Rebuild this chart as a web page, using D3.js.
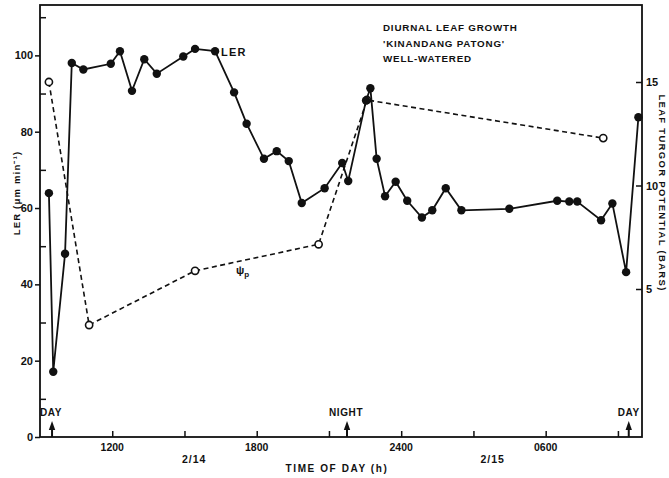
<!DOCTYPE html>
<html>
<head>
<meta charset="utf-8">
<script src="https://cdn.jsdelivr.net/npm/d3@7"></script>
<style>
  body { margin: 0; background: #fff; }
  svg text { font-family: "Liberation Sans", Arial, sans-serif; font-weight: bold; fill: #111; }
</style>
</head>
<body>
<div id="chart"></div>
<script>
// time in hours from midnight 2/14 (24 = midnight 2/15)
var lerTime = [9.37, 9.55, 10.04, 10.32, 10.8, 11.94, 12.32, 12.82, 13.33, 13.85, 14.95, 15.44, 16.27, 17.06,
  17.58, 18.3, 18.83, 19.33, 19.87, 20.82, 21.55, 21.8, 22.54, 22.72, 22.98, 23.33, 23.77, 24.25, 24.86,
  25.29, 25.85, 26.5, 28.49, 30.48, 30.98, 31.31, 32.3, 32.77, 33.34, 33.85];
var lerValue = [63.9, 17.1, 48, 98, 96.3, 97.8, 101.1, 90.7, 99, 95.2, 99.7, 101.7, 101.1, 90.3,
  82.1, 72.9, 74.9, 72.3, 61.3, 65.2, 71.8, 67.1, 88.2, 91.4, 72.9, 63.1, 66.9, 61.9, 57.5,
  59.4, 65.2, 59.4, 59.8, 61.9, 61.7, 61.7, 56.8, 61.2, 43.2, 83.8];

// leaf turgor potential (bars)
var psiTime = [9.37, 11.04, 15.44, 20.57, 22.58, 32.39];
var psiValue = [15.0, 3.26, 5.88, 7.16, 14.13, 12.29];

var xTicks = [12, 15, 18, 21, 24, 27, 30, 33];
var xTickLabels = { 12: "1200", 18: "1800", 24: "2400", 30: "0600" };
var leftMajor = [0, 20, 40, 60, 80, 100];
var leftMinor = [10, 30, 50, 70, 90, 110];
var rightTicks = [5, 10, 15];
var dateLabels = ["2/14", "2/15"];
var dateTimes = [15.4, 27.8];
var markerLabels = ["DAY", "NIGHT", "DAY"];
var markerTimes = [9.5, 21.75, 33.45];
var titleLines = ["DIURNAL LEAF GROWTH", "'KINANDANG PATONG'", "WELL-WATERED"];

var width = 669, height = 478;
var margin = { top: 5, right: 27, bottom: 41, left: 40 };

var svg = d3.select("#chart").append("svg")
    .attr("width", width)
    .attr("height", height);

var x = d3.scaleLinear().domain([9, 34]).range([margin.left, width - margin.right]);
var y = d3.scaleLinear().domain([0, 113.2]).range([height - margin.bottom, margin.top]);
var y2 = d3.scaleLinear().domain([-2.15, 18.72]).range([height - margin.bottom, margin.top]);

// frame
svg.append("rect")
    .attr("x", margin.left).attr("y", margin.top)
    .attr("width", width - margin.left - margin.right)
    .attr("height", height - margin.top - margin.bottom)
    .attr("fill", "none").attr("stroke", "#111").attr("stroke-width", 1.8);

// left axis: major ticks outside with labels, minor ticks inside
svg.append("g")
    .attr("transform", "translate(" + margin.left + ",0)")
    .call(d3.axisLeft(y).tickValues(leftMajor).tickSize(5).tickPadding(2))
    .call(g => g.select(".domain").remove());
svg.append("g")
    .attr("transform", "translate(" + margin.left + ",0)")
    .call(d3.axisRight(y).tickValues(leftMinor).tickSize(6).tickFormat(""))
    .call(g => g.select(".domain").remove());

// right axis
svg.append("g")
    .attr("transform", "translate(" + (width - margin.right) + ",0)")
    .call(d3.axisRight(y2).tickValues(rightTicks).tickSize(-6).tickPadding(4))
    .call(g => g.select(".domain").remove());

// bottom axis, ticks pointing up
svg.append("g")
    .attr("transform", "translate(0," + (height - margin.bottom) + ")")
    .call(d3.axisTop(x).tickValues(xTicks).tickSize(6).tickFormat(""))
    .call(g => g.select(".domain").remove());
svg.append("g")
    .selectAll("text")
    .data(xTicks.filter(t => xTickLabels[t]))
    .enter().append("text")
    .attr("x", d => x(d))
    .attr("y", height - margin.bottom + 14)
    .attr("text-anchor", "middle")
    .attr("font-size", 10.5)
    .text(d => xTickLabels[d]);

svg.selectAll(".tick line").attr("stroke", "#111").attr("stroke-width", 1.5);
svg.selectAll(".tick text").attr("font-size", 11).attr("fill", "#111");

// date labels
svg.append("g").selectAll("text")
    .data(dateLabels)
    .enter().append("text")
    .attr("x", (d, i) => x(dateTimes[i]))
    .attr("y", height - margin.bottom + 26)
    .attr("text-anchor", "middle")
    .attr("font-size", 10.5)
    .attr("letter-spacing", 1)
    .text(d => d);

svg.append("text")
    .attr("x", 337).attr("y", height - 6)
    .attr("text-anchor", "middle")
    .attr("font-size", 10)
    .attr("letter-spacing", 1.6)
    .text("TIME OF DAY (h)");

svg.append("text")
    .attr("transform", "translate(20,193) rotate(-90)")
    .attr("text-anchor", "middle")
    .attr("font-size", 9.5)
    .attr("letter-spacing", 1.2)
    .text("LER (\u03bcm min\u207b\u00b9)");

svg.append("text")
    .attr("transform", "translate(659,193) rotate(90)")
    .attr("text-anchor", "middle")
    .attr("font-size", 9.5)
    .attr("letter-spacing", 1.3)
    .text("LEAF TURGOR POTENTIAL (BARS)");

// day/night markers
var mk = svg.append("g").selectAll("g")
    .data(markerLabels)
    .enter().append("g");
mk.append("line")
    .attr("x1", (d, i) => x(markerTimes[i])).attr("x2", (d, i) => x(markerTimes[i]))
    .attr("y1", height - margin.bottom).attr("y2", height - margin.bottom - 10)
    .attr("stroke", "#111").attr("stroke-width", 2);
mk.append("path")
    .attr("d", (d, i) => {
        var cx = x(markerTimes[i]), b = height - margin.bottom;
        return "M" + (cx - 3.2) + "," + (b - 7) + "L" + cx + "," + (b - 16) + "L" + (cx + 3.2) + "," + (b - 7) + "Z";
    })
    .attr("fill", "#111");
mk.append("text")
    .attr("x", (d, i) => i === 2 ? x(markerTimes[i]) + 11 : (i === 0 ? margin.left : x(markerTimes[i]) - 18))
    .attr("y", height - margin.bottom - 21)
    .attr("text-anchor", (d, i) => i === 2 ? "end" : "start")
    .attr("font-size", 10)
    .attr("letter-spacing", 0.6)
    .text(d => d);

// title block
svg.append("g").selectAll("text")
    .data(titleLines)
    .enter().append("text")
    .attr("x", 383)
    .attr("y", (d, i) => 31 + i * 15.5)
    .attr("font-size", 9.8)
    .attr("letter-spacing", 0.8)
    .text(d => d);

// turgor potential, dashed with open circles
var psi = psiTime.map((t, i) => ({ t: t, v: psiValue[i] }));
svg.append("path")
    .datum(psi)
    .attr("fill", "none")
    .attr("stroke", "#111")
    .attr("stroke-width", 1.6)
    .attr("stroke-dasharray", "5,3.5")
    .attr("d", d3.line().x(d => x(d.t)).y(d => y2(d.v)));
svg.append("g").selectAll("circle")
    .data(psi)
    .enter().append("circle")
    .attr("cx", d => x(d.t)).attr("cy", d => y2(d.v))
    .attr("r", 3.6)
    .attr("fill", "#fff").attr("stroke", "#111").attr("stroke-width", 1.6);

// LER, solid with filled circles
var ler = lerTime.map((t, i) => ({ t: t, v: lerValue[i] }));
svg.append("path")
    .datum(ler)
    .attr("fill", "none")
    .attr("stroke", "#111")
    .attr("stroke-width", 1.8)
    .attr("d", d3.line().x(d => x(d.t)).y(d => y(d.v)));
svg.append("g").selectAll("circle")
    .data(ler)
    .enter().append("circle")
    .attr("cx", d => x(d.t)).attr("cy", d => y(d.v))
    .attr("r", 4.2)
    .attr("fill", "#111");

// series labels
svg.append("text")
    .attr("x", 221).attr("y", 56)
    .attr("font-size", 11)
    .attr("letter-spacing", 1.2)
    .text("LER");
var psiLabel = svg.append("text")
    .attr("x", 236).attr("y", 274)
    .attr("font-size", 11);
psiLabel.append("tspan").text("\u03c8");
psiLabel.append("tspan").attr("font-size", 8).attr("dy", 3).text("p");
</script>
</body>
</html>
